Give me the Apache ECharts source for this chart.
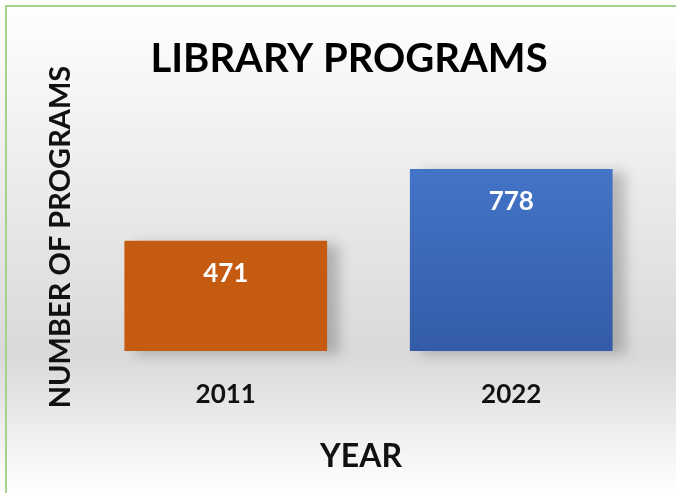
<!DOCTYPE html>
<html style="height: 100%;">
<head>
<meta charset="utf-8">
<title>Library Programs</title>
<script src="https://cdn.jsdelivr.net/npm/echarts@6/dist/echarts.min.js"></script>
</head>
<body style="height: 100%; margin: 0">
<div id="container" style="width: 676px; height: 493px"></div>
<script type="text/javascript">
var years = ['2011', '2022'];
var programs = [471, 778];
var barColors = [
  '#C55A11',
  new echarts.graphic.LinearGradient(0, 0, 0, 1, [
    { offset: 0, color: '#4474C7' },
    { offset: 1, color: '#335BA7' }
  ])
];

var font = 'Lato, "Open Sans", sans-serif';
var chart = echarts.init(document.getElementById('container'));

var option = {
  backgroundColor: new echarts.graphic.LinearGradient(0, 0, 0, 1, [
    { offset: 0, color: '#ffffff' },
    { offset: 0.72, color: '#d9d9d9' },
    { offset: 1, color: '#ffffff' }
  ]),
  title: {
    text: 'LIBRARY PROGRAMS',
    left: 344,
    textAlign: 'center',
    top: 34,
    textStyle: { fontFamily: font, fontWeight: 'bold', fontSize: 40, color: '#000' }
  },
  graphic: [{
    type: 'rect',
    shape: { x: 6, y: 6, width: 720, height: 600 },
    style: { fill: 'none', stroke: '#A9D18E', lineWidth: 2 }
  }, {
    // y axis name
    type: 'text',
    x: 61,
    y: 237,
    rotation: Math.PI / 2,
    style: {
      text: 'NUMBER OF PROGRAMS',
      fill: '#111',
      font: 'bold 29px ' + font,
      align: 'center',
      verticalAlign: 'middle'
    }
  }, {
    // x axis name
    type: 'text',
    x: 361,
    y: 457,
    style: {
      text: 'YEAR',
      fill: '#111',
      font: 'bold 32px ' + font,
      align: 'center',
      verticalAlign: 'middle'
    }
  }],
  grid: { left: 83, right: 22, top: 117, bottom: 142 },
  xAxis: {
    type: 'category',
    data: years,
    axisLine: { show: false },
    axisTick: { show: false },
    axisLabel: { margin: 31, fontFamily: font, fontWeight: 'bold', fontSize: 26, color: '#111' }
  },
  yAxis: {
    type: 'value',
    min: 0,
    max: 1000,
    show: false
  },
  series: [{
    type: 'bar',
    data: programs.map(function (v, i) {
      return { value: v, itemStyle: { color: barColors[i] } };
    }),
    barWidth: '71%',
    itemStyle: {
      shadowColor: 'rgba(0,0,0,0.22)',
      shadowBlur: 12,
      shadowOffsetX: 12,
      shadowOffsetY: 3
    },
    label: {
      show: true,
      position: 'insideTop',
      distance: 20,
      fontFamily: font,
      fontWeight: 'bold',
      fontSize: 26,
      color: '#fff'
    }
  }]
};
chart.setOption(option);
</script>
</body>
</html>
